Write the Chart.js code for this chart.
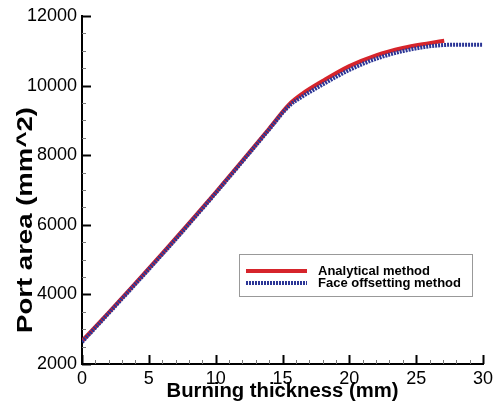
<!DOCTYPE html>
<html>
<head>
<meta charset="utf-8">
<script src="https://cdn.jsdelivr.net/npm/chart.js@4.4.1/dist/chart.umd.min.js"></script>
<style>
  html, body { margin: 0; padding: 0; background: #fff; }
  #wrap { width: 501px; height: 406px; }
</style>
</head>
<body>
<div id="wrap"><canvas id="myChart0" width="501" height="406"></canvas></div>
<script>
// burning thickness (mm) vs port area (mm^2)
const analyticalX = [0, 2, 4, 6, 8, 10, 12, 14, 15.5, 16.5, 18, 20, 22, 24, 26, 27.1];
const analyticalY = [2660, 3480, 4320, 5170, 6040, 6930, 7840, 8760, 9460, 9770, 10130, 10560, 10870, 11080, 11220, 11290];

const offsetX = [0, 2, 4, 6, 8, 10, 12, 14, 15.5, 16.5, 18, 20, 22, 24, 26, 27, 28, 30];
const offsetY = [2630, 3460, 4300, 5150, 6020, 6910, 7820, 8740, 9420, 9690, 10030, 10450, 10770, 10990, 11130, 11165, 11175, 11175];

const seriesNames = ['Analytical method', 'Face offsetting method'];
const xTitle = 'Burning thickness (mm)';
const yTitle = 'Port area (mm^2)';

function toPoints(xs, ys) {
    return xs.map((x, i) => ({ x: x, y: ys[i] }));
}

const RED = '#d6242b';
const BLUE = '#2b3596';

// inward major/minor tick marks
const tickMarks = {
    id: 'tickMarks',
    afterDraw(chart) {
        const c = chart.ctx;
        const xs = chart.scales.x, ys = chart.scales.y;
        const a = chart.chartArea;
        c.save();
        for (let v = 0; v <= 30; v += 1) {
            const px = Math.round(xs.getPixelForValue(v)) + 0.5;
            const major = v % 5 === 0;
            c.strokeStyle = major ? '#000' : '#777';
            c.lineWidth = major ? 2 : 1;
            c.beginPath();
            c.moveTo(px, a.bottom);
            c.lineTo(px, a.bottom - (major ? 9 : 4));
            c.stroke();
        }
        for (let v = 2000; v <= 12000; v += 500) {
            const py = Math.round(ys.getPixelForValue(v)) + 0.5;
            const major = v % 2000 === 0;
            c.strokeStyle = major ? '#000' : '#777';
            c.lineWidth = major ? 2 : 1;
            c.beginPath();
            c.moveTo(a.left, py);
            c.lineTo(a.left + (major ? 9 : 4), py);
            c.stroke();
        }
        c.restore();
    }
};

// stretched axis titles like the original plot
function stretchedText(c, text, font, targetW, x, y, rot) {
    c.save();
    c.font = font;
    const w = c.measureText(text).width;
    c.translate(x, y);
    c.rotate(rot);
    c.scale(targetW / w, 1);
    c.fillStyle = '#000';
    c.textAlign = 'center';
    c.textBaseline = 'alphabetic';
    c.fillText(text, 0, 0);
    c.restore();
}

const axisTitles = {
    id: 'axisTitles',
    afterDraw(chart) {
        const c = chart.ctx;
        const a = chart.chartArea;
        stretchedText(c, xTitle, 'bold 20px "Liberation Sans", Arial, sans-serif', 232, (a.left + a.right) / 2, 397, 0);
        stretchedText(c, yTitle, 'bold 22px "Liberation Sans", Arial, sans-serif', 226, 32, 220, -Math.PI / 2);
    }
};

// legend box inside the plot, lower right
const boxLegend = {
    id: 'boxLegend',
    afterDraw(chart) {
        const c = chart.ctx;
        const a = chart.chartArea;
        const right = a.right - 11, left = right - 233;
        const top = 254, h = 42;
        c.save();
        c.fillStyle = '#fff';
        c.fillRect(left, top, right - left, h);
        c.strokeStyle = '#999';
        c.lineWidth = 1;
        c.strokeRect(left + 0.5, top + 0.5, right - left, h);
        const rows = [271, 283];
        chart.data.datasets.forEach((ds, i) => {
            c.strokeStyle = ds.borderColor;
            c.lineWidth = ds.borderWidth;
            c.setLineDash(ds.borderDash || []);
            c.beginPath();
            c.moveTo(left + 7, rows[i]);
            c.lineTo(left + 68, rows[i]);
            c.stroke();
            c.setLineDash([]);
            c.fillStyle = '#000';
            c.font = 'bold 13px "Liberation Sans", Arial, sans-serif';
            c.textBaseline = 'middle';
            c.fillText(ds.label, left + 79, rows[i]);
        });
        c.restore();
    }
};

const tickFont = { family: '"Liberation Sans", Arial, sans-serif', size: 18 };

const ctx = document.getElementById('myChart0').getContext('2d');
let myChart = new Chart(ctx, {
    type: 'line',
    data: {
        datasets: [{
            label: seriesNames[0],
            data: toPoints(analyticalX, analyticalY),
            borderColor: RED,
            borderWidth: 4,
            pointRadius: 0,
            cubicInterpolationMode: 'monotone',
            order: 1
        }, {
            label: seriesNames[1],
            data: toPoints(offsetX, offsetY),
            borderColor: BLUE,
            borderWidth: 4,
            borderDash: [2, 1],
            pointRadius: 0,
            cubicInterpolationMode: 'monotone',
            order: 0
        }]
    },
    options: {
        responsive: false,
        animation: false,
        layout: { padding: { top: 16, right: 18, left: 0, bottom: 0 } },
        plugins: {
            legend: { display: false },
            tooltip: { enabled: false }
        },
        scales: {
            x: {
                type: 'linear',
                min: 0,
                max: 30,
                grid: { display: false, drawTicks: false },
                border: { display: true, color: '#000', width: 2 },
                ticks: {
                    stepSize: 5,
                    padding: 4,
                    color: '#000',
                    font: tickFont,
                    callback: v => String(v)
                },
                afterFit: s => { s.height = 42; }
            },
            y: {
                min: 2000,
                max: 12000,
                grid: { display: false, drawTicks: false },
                border: { display: true, color: '#000', width: 2 },
                ticks: {
                    stepSize: 2000,
                    padding: 5,
                    color: '#000',
                    font: tickFont,
                    callback: v => String(v)
                },
                afterFit: s => { s.width = 82; }
            }
        }
    },
    plugins: [tickMarks, axisTitles, boxLegend]
});
</script>
</body>
</html>
